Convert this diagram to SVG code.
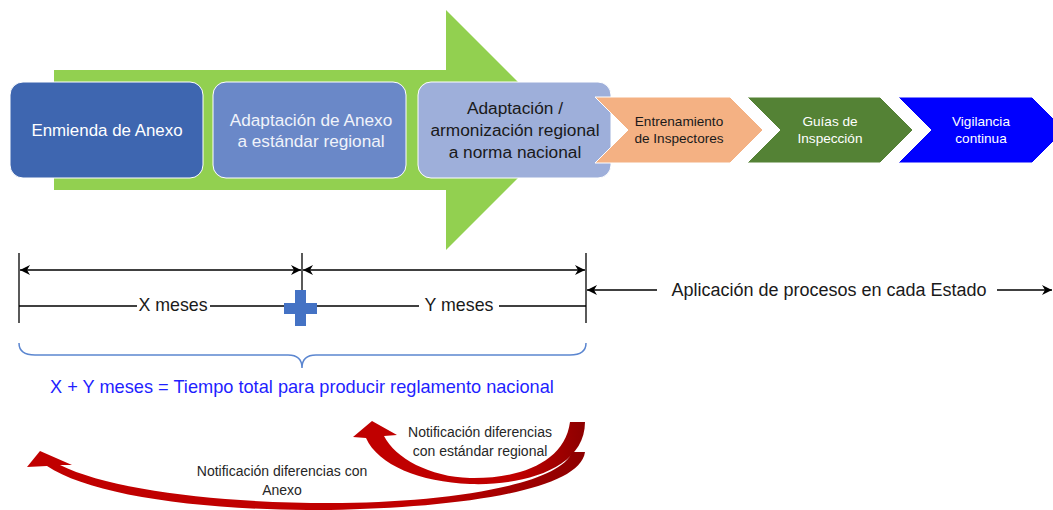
<svg xmlns="http://www.w3.org/2000/svg" width="1053" height="510" viewBox="0 0 1053 510">
<defs>
<style>
.t{font-family:"Liberation Sans",Arial,sans-serif;text-anchor:middle}
.w{fill:#ffffff}
.dk{fill:#1a1a1a}
.box{stroke:#ffffff;stroke-width:1}
.ln{stroke:#000000;stroke-width:1.3;fill:none}
</style>
<marker id="ah" viewBox="0 0 10 10" refX="10" refY="5" markerWidth="10" markerHeight="10" markerUnits="userSpaceOnUse" orient="auto-start-reverse">
<path d="M0,0 L10,5 L0,10 L3,5 Z" fill="#000"/>
</marker>
<linearGradient id="rg" x1="0" y1="0" x2="1" y2="0">
<stop offset="0" stop-color="#c00000"/>
<stop offset="0.7" stop-color="#c00000"/>
<stop offset="1" stop-color="#8c0000"/>
</linearGradient>
</defs>
<rect width="1053" height="510" fill="#ffffff"/>

<g id="green-arrow">
<path d="M54,70 L446,70 L446,10 L566,130 L446,250 L446,190 L54,190 Z" fill="#92d050"/>
</g>

<g id="node-enmienda">
<rect class="box" x="10" y="82" width="193" height="96" rx="13" fill="#3e66b0"/>
<text class="t w" x="107" y="136" font-size="16.9">Enmienda de Anexo</text>
</g>
<g id="node-adaptacion">
<rect class="box" x="213" y="82" width="193" height="96" rx="13" fill="#6a88c8"/>
<text class="t" x="311" y="126" font-size="17.2" fill="#f0f3fa">Adaptación de Anexo</text>
<text class="t" x="311" y="147" font-size="17.2" fill="#f0f3fa">a estándar regional</text>
</g>
<g id="node-armonizacion">
<rect class="box" x="418" y="82" width="193" height="96" rx="13" fill="#9eafda"/>
<text class="t dk" x="515" y="114" font-size="17.3">Adaptación /</text>
<text class="t dk" x="515" y="136" font-size="17.3">armonización regional</text>
<text class="t dk" x="515" y="158" font-size="17.3">a norma nacional</text>
</g>
<g id="node-entrenamiento">
<path class="box" d="M595,97 L730,97 L763,130 L730,163 L595,163 L628,130 Z" fill="#f4b183"/>
<text class="t dk" x="679" y="126" font-size="13.6">Entrenamiento</text>
<text class="t dk" x="679" y="143" font-size="13.6">de Inspectores</text>
</g>
<g id="node-guias">
<path class="box" d="M747,97 L880,97 L913,130 L880,163 L747,163 L780,130 Z" fill="#548235"/>
<text class="t w" x="830" y="126" font-size="13.6">Guías de</text>
<text class="t w" x="830" y="143" font-size="13.6">Inspección</text>
</g>
<g id="node-vigilancia">
<path class="box" d="M898,97 L1032,97 L1065,130 L1032,163 L898,163 L931,130 Z" fill="#0000ff"/>
<text class="t w" x="981" y="126" font-size="13.6">Vigilancia</text>
<text class="t w" x="981" y="143" font-size="13.6">continua</text>
</g>

<g id="connectors">
<line class="ln" x1="19" y1="253" x2="19" y2="323"/>
<line class="ln" x1="302" y1="253" x2="302" y2="292"/>
<line class="ln" x1="586" y1="253" x2="586" y2="323"/>
<line class="ln" x1="20" y1="270" x2="301" y2="270" marker-start="url(#ah)" marker-end="url(#ah)"/>
<line class="ln" x1="303" y1="270" x2="585" y2="270" marker-start="url(#ah)" marker-end="url(#ah)"/>
<line class="ln" x1="19" y1="306" x2="137" y2="306"/>
<line class="ln" x1="210" y1="306" x2="290" y2="306"/>
<line class="ln" x1="312" y1="306" x2="419" y2="306"/>
<line class="ln" x1="499" y1="306" x2="586" y2="306"/>
<line class="ln" x1="657" y1="290" x2="587" y2="290" marker-end="url(#ah)"/>
<line class="ln" x1="997" y1="290" x2="1052" y2="290" marker-end="url(#ah)"/>
<path d="M19,343 Q19,355 35,355 L288,355 Q302,355 302,368 Q302,355 316,355 L570,355 Q586,355 586,343" fill="none" stroke="#5b86d0" stroke-width="1.5"/>
<path d="M585,422 C585,470 520,486 470,484 C420,482 378,465 366,438 L353,437 L372,421 L397,435 L384,436 C395,458 430,477 470,478 C520,479 565,462 570,422 Z" fill="url(#rg)"/>
<path d="M585,452 C580,492 450,508 330,510 C200,511 90,495 47,466 L27,467 L40,451 L72,465 L60,465 C110,490 220,503 330,503 C440,503 560,486 572,452 Z" fill="url(#rg)"/>
</g>

<g id="plus">
<rect x="295" y="290" width="11" height="36" fill="#4472c4"/>
<rect x="284" y="303" width="33" height="11" fill="#4472c4"/>
</g>

<g id="labels">
<text class="t" x="173" y="311" font-size="17.8" fill="#1a1a1a">X meses</text>
<text class="t" x="459" y="311" font-size="17.8" fill="#1a1a1a">Y meses</text>
<text class="t" x="829" y="296" font-size="18" fill="#1a1a1a">Aplicación de procesos en cada Estado</text>
<text class="t" x="302" y="393" font-size="18.2" fill="#1f1fff">X + Y meses = Tiempo total para producir reglamento nacional</text>
<text class="t" x="480" y="437" font-size="14" fill="#262626">Notificación diferencias</text>
<text class="t" x="480" y="456" font-size="14" fill="#262626">con estándar regional</text>
<text class="t" x="282" y="476" font-size="14" fill="#262626">Notificación diferencias con</text>
<text class="t" x="282" y="495" font-size="14" fill="#262626">Anexo</text>
</g>
</svg>
